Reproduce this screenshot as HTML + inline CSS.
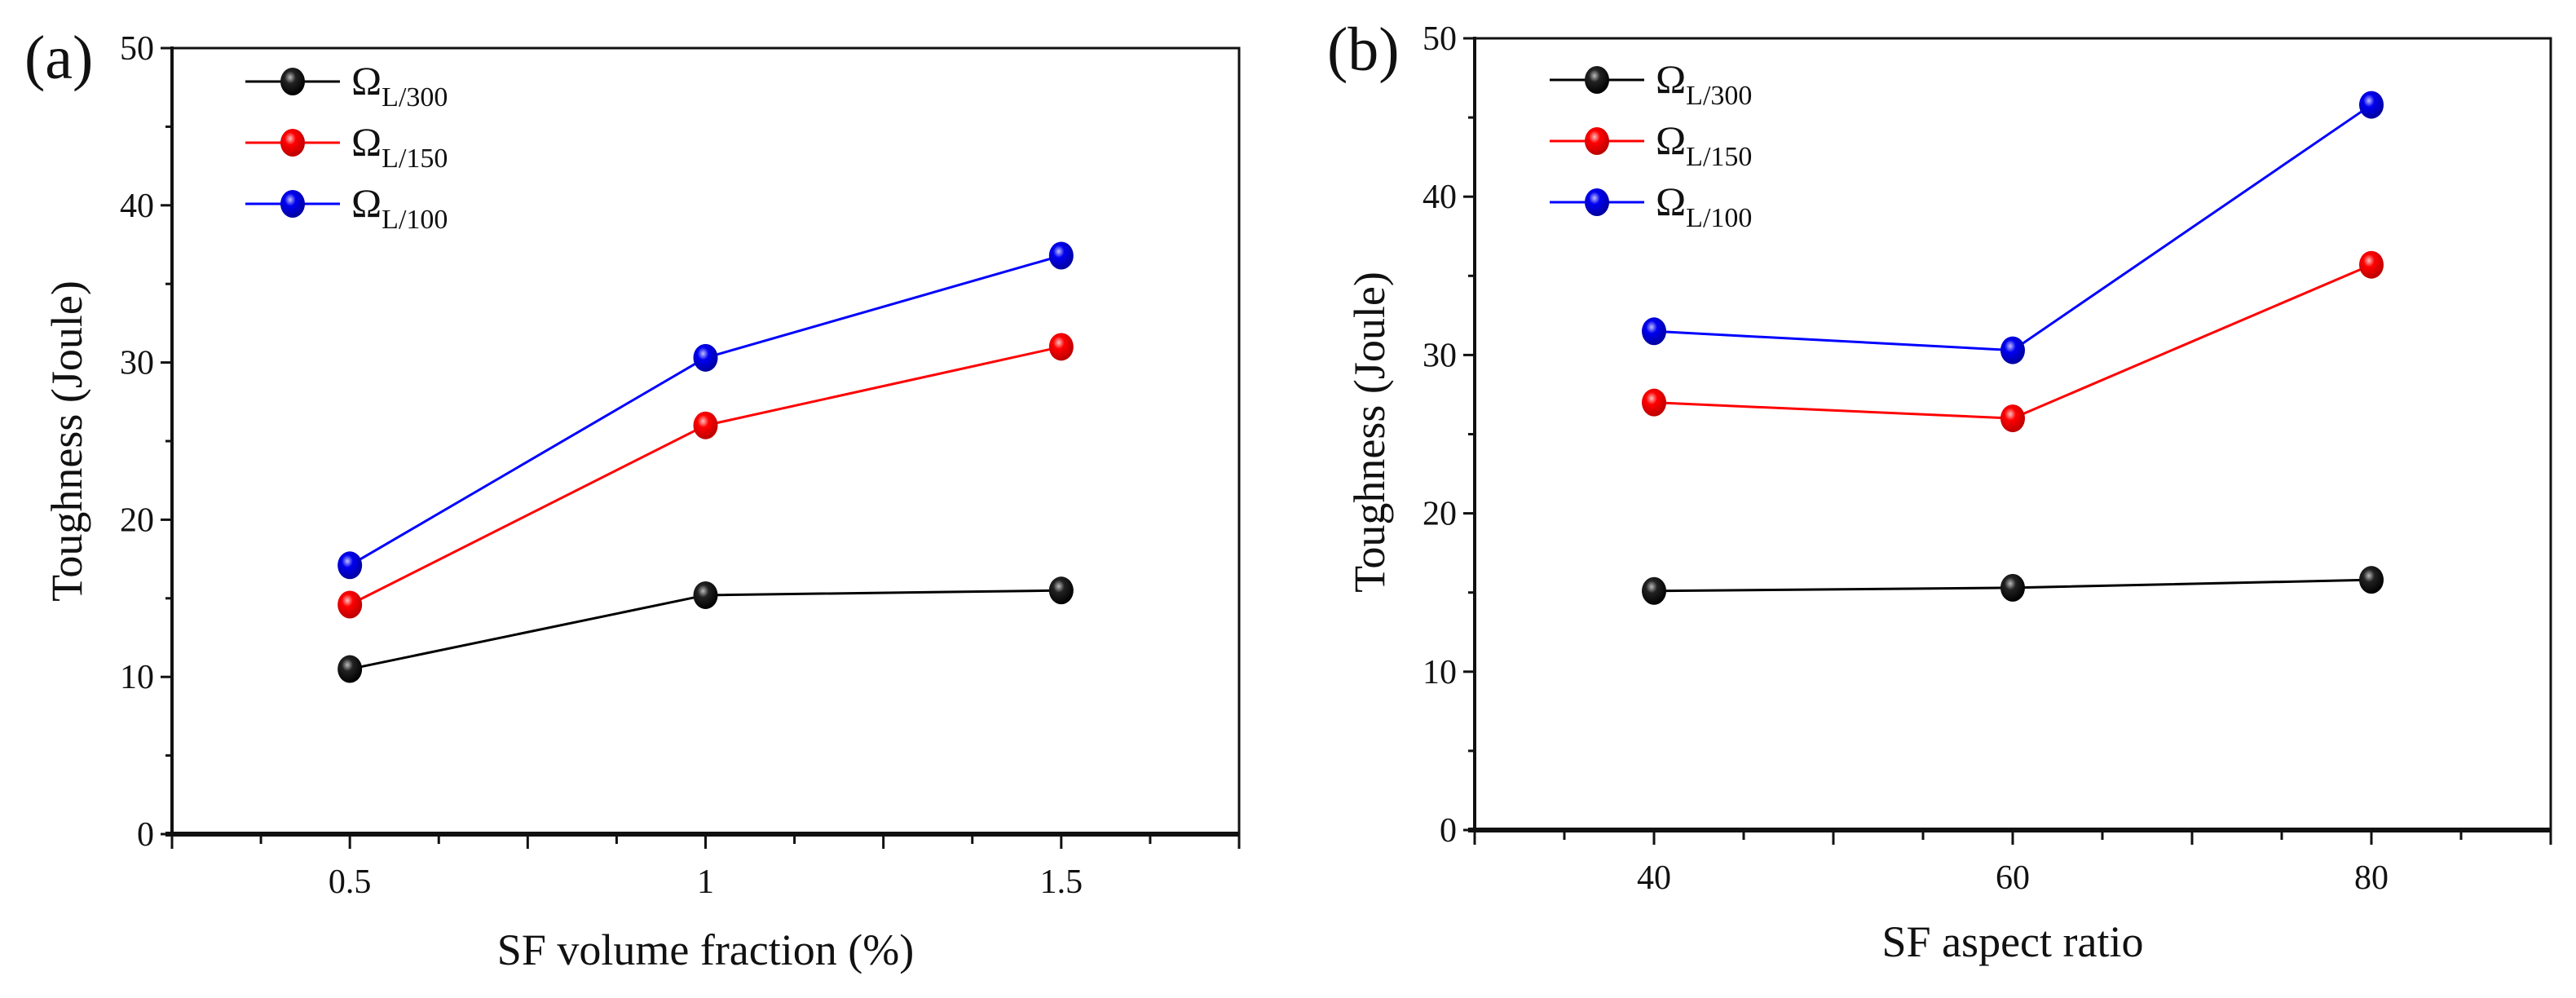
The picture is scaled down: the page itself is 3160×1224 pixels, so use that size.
<!DOCTYPE html>
<html><head><meta charset="utf-8">
<style>
html,body{margin:0;padding:0;background:#fff;}
svg{display:block;}
text{font-family:"Liberation Serif",serif;fill:#111;}
</style></head>
<body>
<svg id="fig" width="3160" height="1224" viewBox="0 0 3160 1224" xmlns="http://www.w3.org/2000/svg">
<defs>
<radialGradient id="gk" cx="0.4" cy="0.35" r="0.65"><stop offset="0" stop-color="#bbb"/><stop offset="0.35" stop-color="#222"/><stop offset="1" stop-color="#000"/></radialGradient>
<radialGradient id="gr" cx="0.4" cy="0.35" r="0.65"><stop offset="0" stop-color="#ffc0c0"/><stop offset="0.35" stop-color="#f00"/><stop offset="1" stop-color="#b00"/></radialGradient>
<radialGradient id="gb" cx="0.4" cy="0.35" r="0.65"><stop offset="0" stop-color="#c0c0ff"/><stop offset="0.35" stop-color="#0000f0"/><stop offset="1" stop-color="#0000a0"/></radialGradient>
</defs>
</svg>
<script>
// Panel (a) data
const catsA = [0.5, 1, 1.5];
const aL300 = [10.5, 15.2, 15.5];
const aL150 = [14.6, 26.0, 31.0];
const aL100 = [17.1, 30.3, 36.8];
const xTicksA = ["0.5", "1", "1.5"];
// Panel (b) data
const catsB = [40, 60, 80];
const bL300 = [15.1, 15.3, 15.8];
const bL150 = [27.0, 26.0, 35.7];
const bL100 = [31.5, 30.3, 45.8];
const xTicksB = ["40", "60", "80"];
const yTicks = [0, 10, 20, 30, 40, 50];
const seriesNames = ["L/300", "L/150", "L/100"];

const NS = "http://www.w3.org/2000/svg";
const svg = document.getElementById('fig');
function mk(tag, attrs, parent) {
  const e = document.createElementNS(NS, tag);
  for (const k in attrs) e.setAttribute(k, attrs[k]);
  (parent || svg).appendChild(e);
  return e;
}
const colors = ["#000", "#f00", "#00f"];
const grads = ["url(#gk)", "url(#gr)", "url(#gb)"];

function panel(cfg) {
  const g = mk('g', {});
  
  
  const X = v => cfg.x0 + (v - cfg.xmin) / (cfg.xmax - cfg.xmin) * (cfg.x1 - cfg.x0);
  const Y = v => cfg.y0 - (v - 0) / 50 * (cfg.y0 - cfg.y1);
  // frame
  const fr = mk('rect', {x: cfg.x0, y: cfg.y1, width: cfg.x1 - cfg.x0, height: cfg.y0 - cfg.y1, fill: 'none', stroke: '#111', 'stroke-width': 3}, g);
  
  
  const bx = mk('line', {x1: cfg.x0 - 8, x2: cfg.x1, y1: cfg.y0, y2: cfg.y0, stroke: '#111', 'stroke-width': 6}, g);
  
  
  const ly = mk('line', {x1: cfg.x0, x2: cfg.x0, y1: cfg.y1 - 2, y2: cfg.y0, stroke: '#111', 'stroke-width': 4}, g);
  
  
  // y ticks
  for (let v = 0; v <= 50; v += 5) {
    const major = v % 10 === 0;
    mk('line', {x1: cfg.x0 - (major ? 14 : 8), x2: cfg.x0, y1: Y(v), y2: Y(v), stroke: '#111', 'stroke-width': 3}, g);
  }
  yTicks.forEach(v => {
    const t = mk('text', {x: cfg.x0 - 22, y: Y(v) + 14, 'text-anchor': 'end', 'font-size': 42}, g);
    t.textContent = String(v);
    
    
  });
  // x ticks
  for (let v = cfg.xmin; v <= cfg.xmax + 1e-9; v += cfg.minor) {
    const isMajor = Math.abs(((v - cfg.xmin) / cfg.minor) % 2) < 1e-6;
    mk('line', {x1: X(v), x2: X(v), y1: cfg.y0, y2: cfg.y0 + (isMajor ? 18 : 12), stroke: '#111', 'stroke-width': 3}, g);
  }
  cfg.cats.forEach((c, i) => {
    const t = mk('text', {x: X(c), y: cfg.y0 + 72, 'text-anchor': 'middle', 'font-size': 42}, g);
    t.textContent = cfg.ticks[i];
    
    
  });
  // titles
  const xt = mk('text', {x: (cfg.x0 + cfg.x1) / 2, y: cfg.xtY, 'text-anchor': 'middle', 'font-size': 54}, g);
  xt.textContent = cfg.xtitle;
  
  
  const yt = mk('text', {x: 0, y: 0, 'text-anchor': 'middle', 'font-size': 54, transform: `translate(${cfg.ytX},${cfg.ytY}) rotate(-90)`}, g);
  yt.textContent = 'Toughness (Joule)';
  
  
  const pl = mk('text', {x: cfg.labX, y: cfg.labY, 'font-size': 76}, g);
  pl.textContent = cfg.label;
  
  
  // series
  cfg.series.forEach((s, si) => {
    const pts = s.map((v, i) => X(cfg.cats[i]) + ',' + Y(v)).join(' ');
    const line = mk('polyline', {points: pts, fill: 'none', stroke: colors[si], 'stroke-width': 3}, g);
    
    
    s.forEach((v, i) => {
      const m = mk('ellipse', {cx: X(cfg.cats[i]), cy: Y(v), rx: 15, ry: 17, fill: grads[si]}, g);
      
      
    });
  });
  // legend
  const lg = mk('g', {}, g);
  
  
  seriesNames.forEach((n, si) => {
    const yy = cfg.legY + si * 75;
    const e = mk('g', {}, lg);
    
    
    mk('line', {x1: cfg.legX, x2: cfg.legX + 116, y1: yy, y2: yy, stroke: colors[si], 'stroke-width': 3}, e);
    mk('ellipse', {cx: cfg.legX + 58, cy: yy, rx: 15, ry: 17, fill: grads[si]}, e);
    const t = mk('text', {x: cfg.legX + 130, y: yy + 16, 'font-size': 50}, e);
    t.textContent = 'Ω';
    const sub = mk('tspan', {'font-size': 34, dy: 14}, t);
    sub.textContent = n;
  });
}

panel({name: 'panel-a', x0: 211, x1: 1520, y0: 1023, y1: 59, xmin: 0.25, xmax: 1.75, minor: 0.125,
  cats: catsA, ticks: xTicksA, series: [aL300, aL150, aL100],
  xtitle: 'SF volume fraction (%)', xtY: 1183, ytX: 100, ytY: 541, label: '(a)', labX: 30, labY: 96,
  legX: 301, legY: 100});
panel({name: 'panel-b', x0: 1809, x1: 3129, y0: 1018, y1: 47, xmin: 30, xmax: 90, minor: 5,
  cats: catsB, ticks: xTicksB, series: [bL300, bL150, bL100],
  xtitle: 'SF aspect ratio', xtY: 1173, ytX: 1698, ytY: 530, label: '(b)', labX: 1628, labY: 86,
  legX: 1901, legY: 98});
</script>
</body></html>
